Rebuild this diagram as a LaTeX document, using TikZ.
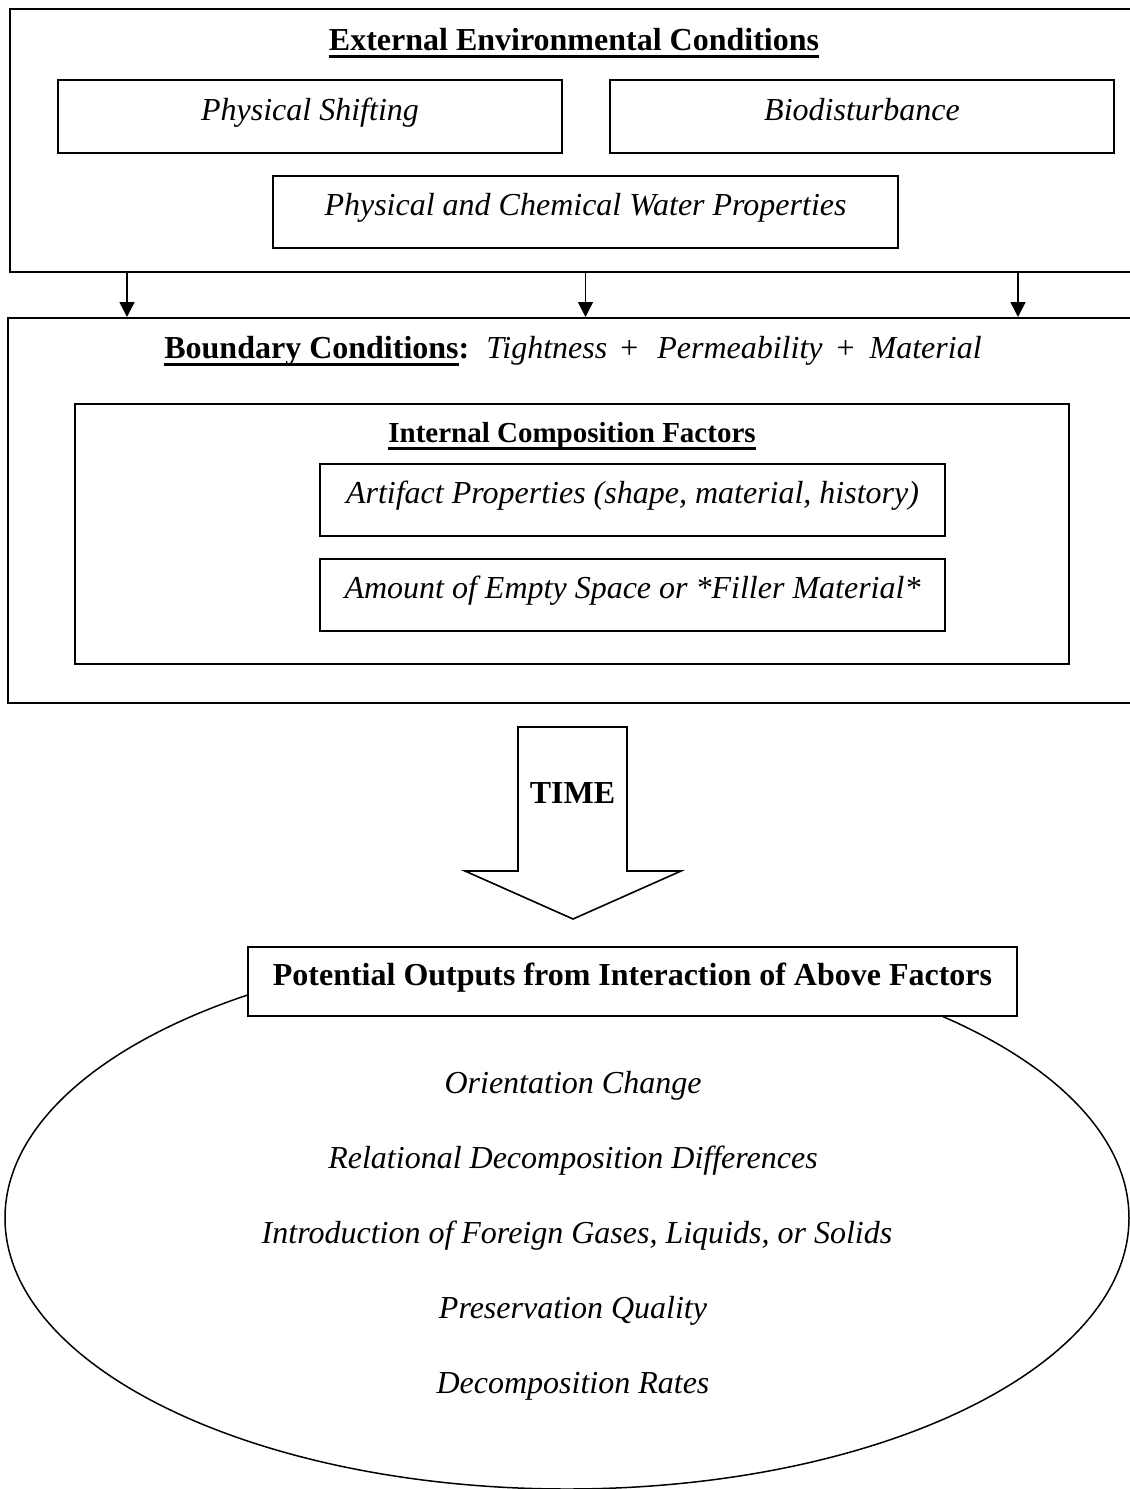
\documentclass[tikz,border=0pt]{standalone}
\usepackage{fontspec}
\setmainfont{Liberation Serif}
\usetikzlibrary{arrows.meta,fit,shapes.geometric}
\newsavebox\myulbox
\newcommand\myul[1]{\sbox\myulbox{#1}\rlap{\rule[-8pt]{\wd\myulbox}{2.6pt}}\usebox\myulbox}
\tikzset{
  frame/.style={draw, line width=2pt, inner sep=0pt},
  factorbox/.style={draw, line width=2pt, inner sep=0pt, text height=18pt, text depth=11pt, font=\fontsize{32}{38}\selectfont\itshape},
  arr/.style={line width=1.6pt, -{Triangle[width=15pt,length=15pt]}},
  title/.style={anchor=base, inner sep=0pt, font=\fontsize{32}{38}\selectfont\bfseries},
  outtext/.style={anchor=base, inner sep=0pt, font=\fontsize{32}{38}\selectfont\itshape}
}
\begin{document}
\begin{tikzpicture}[x=1pt, y=-1pt, font=\fontsize{32}{38}\selectfont]
\useasboundingbox (0,0) rectangle (1130,1489);
\clip (0,0) rectangle (1130,1489);
\fill[white] (0,0) rectangle (1130,1489);

% External environmental conditions
\node[frame, fit={(10,9) (1150,272)}] (ext) {};
\node[title] (exttitle) at (574,50) {\myul{External Environmental Conditions}};
\node[factorbox, minimum width=504pt, minimum height=73pt] (ps) at (310,116.5) {Physical Shifting};
\node[factorbox, minimum width=504pt, minimum height=73pt] (bio) at (862,116.5) {Biodisturbance};
\node[factorbox, minimum width=625pt, minimum height=72pt] (wat) at (585.5,212) {Physical and Chemical Water Properties};

% Boundary conditions
\node[frame, fit={(8,318) (1150,703)}] (bnd) {};
\node[anchor=base, inner sep=0pt] (bndtitle) at (573,358) {\textbf{\myul{Boundary Conditions}:}\hspace{17pt}\textit{Tightness}\hspace{13pt}+\hspace{19pt}\textit{Permeability}\hspace{14pt}+\hspace{15pt}\textit{Material}};
\node[frame, fit={(75,404) (1069,664)}] (icf) {};
\node[title, font=\fontsize{29}{34}\selectfont\bfseries] (icftitle) at (572,442) {\myul{Internal Composition Factors}};
\node[factorbox, minimum width=625pt, minimum height=72pt] (art) at (632.5,500) {Artifact Properties (shape, material, history)};
\node[factorbox, minimum width=625pt, minimum height=72pt] (amt) at (632.5,595) {Amount of Empty Space or *Filler Material*};

% connectors
\draw[arr] ([xshift=118pt]ext.south west) -- ([xshift=118pt]ext.south west |- bnd.north);
\draw[arr] (wat.south |- ext.south) -- (wat.south |- bnd.north);
\draw[arr] ([xshift=-133pt]ext.south east) -- ([xshift=-133pt]ext.south east |- bnd.north);

% TIME arrow
\draw[line width=1.6pt, line join=miter] (518,727) -- (627,727) -- (627,871) -- (681,871) -- (573,919) -- (465,871) -- (518,871) -- cycle;
\node[title] (time) at (572.5,803) {TIME};

% outputs
\node[draw, ellipse, line width=1.5pt, minimum width=1124pt, minimum height=542pt, inner sep=0pt] (outs) at (567,1218) {};
\node[factorbox, fill=white, minimum width=769pt, minimum height=69pt, font=\fontsize{32}{38}\selectfont\bfseries] (pot) at (632.5,981.5) {Potential Outputs from Interaction of Above Factors};
\node[outtext] (o1) at (573,1093) {Orientation Change};
\node[outtext] (o2) at (573,1168) {Relational Decomposition Differences};
\node[outtext] (o3) at (577,1243) {Introduction of Foreign Gases, Liquids, or Solids};
\node[outtext] (o4) at (573,1318) {Preservation Quality};
\node[outtext] (o5) at (573,1393) {Decomposition Rates};
\end{tikzpicture}
\end{document}
